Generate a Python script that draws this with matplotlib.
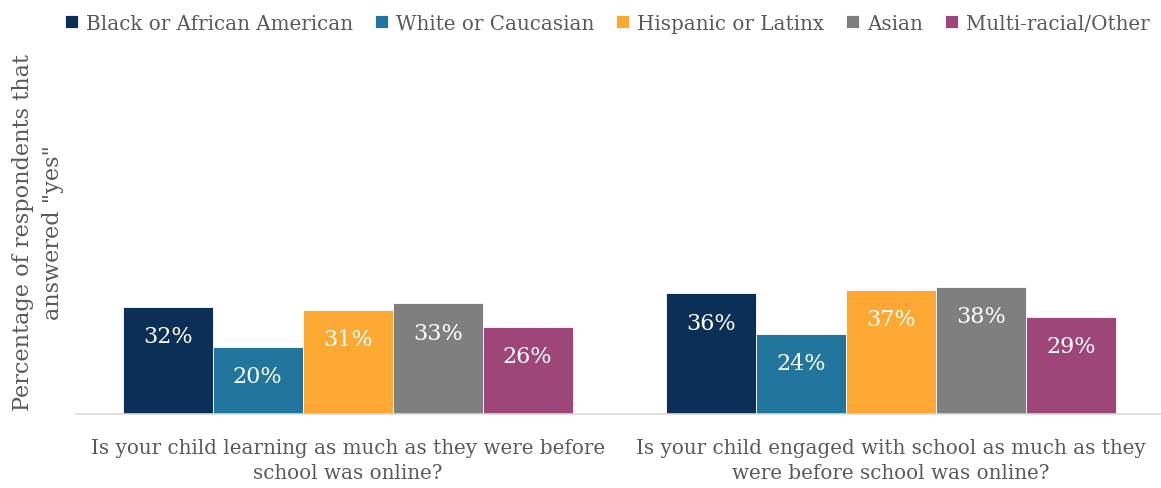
import matplotlib.pyplot as plt
import numpy as np

plt.rcParams["font.family"] = ["DejaVu Serif"]

questions = [
    "Is your child learning as much as they were before\nschool was online?",
    "Is your child engaged with school as much as they\nwere before school was online?",
]
groups = ["Black or African American", "White or Caucasian", "Hispanic or Latinx",
          "Asian", "Multi-racial/Other"]
colors = ["#0c2f57", "#22769d", "#fca833", "#7f7f7f", "#9e4679"]

black = [0.32, 0.36]
white = [0.20, 0.24]
hispanic = [0.31, 0.37]
asian = [0.33, 0.38]
multi = [0.26, 0.29]
series = [black, white, hispanic, asian, multi]

fig = plt.figure(figsize=(11.61, 4.89), dpi=100)
ax = fig.add_axes([0.0655, 0.1513, 0.936, 0.685])

x = np.arange(len(questions))
width = 0.1656
for i, (name, vals, c) in enumerate(zip(groups, series, colors)):
    pos = x + (i - 2) * width
    bars = ax.bar(pos, vals, width, color=c, label=name,
                  edgecolor="white", linewidth=0.6)
    for b, v in zip(bars, vals):
        ax.annotate(f"{v:.0%}", (b.get_x() + b.get_width() / 2, v),
                    xytext=(0, -21), textcoords="offset points",
                    ha="center", va="center", color="white", fontsize=16)

ax.set_xlim(-0.5, 1.5)
ax.set_ylim(0, 1.0)
ax.set_yticks([])
ax.set_xticks(x)
ax.set_xticklabels(questions, fontsize=14.3, color="#595959", linespacing=1.4)
ax.tick_params(axis="x", length=0, pad=17)
for s in ["top", "right", "left"]:
    ax.spines[s].set_visible(False)
ax.spines["bottom"].set_color("#d9d9d9")
ax.spines["bottom"].set_linewidth(1.2)

ax.set_ylabel("Percentage of respondents that\nanswered \"yes\"", fontsize=16.1,
              color="#595959", linespacing=1.45)
ax.yaxis.set_label_coords(-0.011, 0.546)

fig.legend(loc="upper center", bbox_to_anchor=(0.523, 1.007), ncol=5, frameon=False,
           fontsize=14.35, labelcolor="#595959", handlelength=0.65, handleheight=0.65,
           handletextpad=0.4, columnspacing=1.1)

fig.savefig("out.png", dpi=100)
